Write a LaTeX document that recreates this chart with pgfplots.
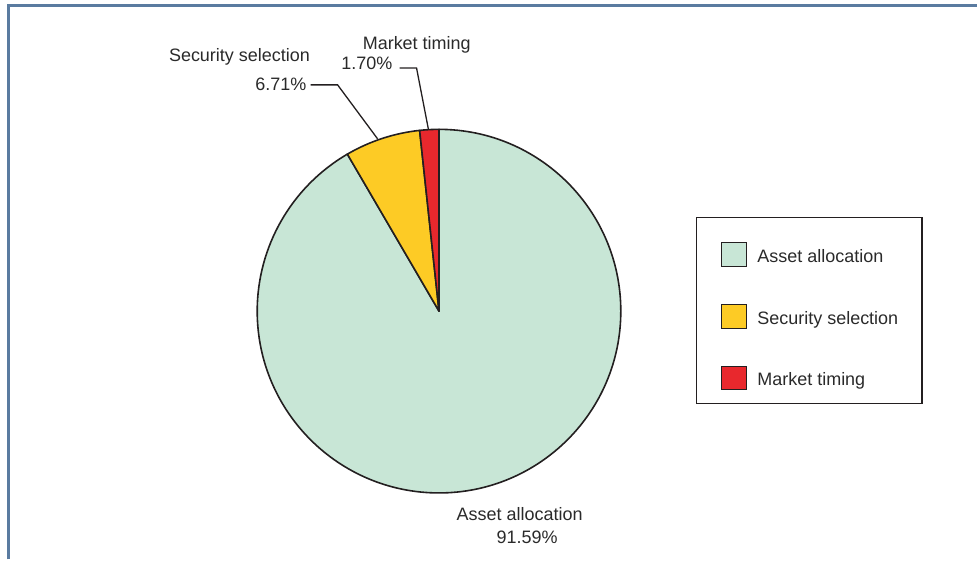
\documentclass[border=0pt]{standalone}
\usepackage{fontspec}
\setmainfont{Liberation Sans}
\usepackage{pgfplots}
\usepackage{pgfplotstable}
\pgfplotsset{compat=1.18}
\definecolor{slice0}{HTML}{C8E6D6}
\definecolor{slice1}{HTML}{FDCB25}
\definecolor{slice2}{HTML}{E8282D}
\definecolor{edgecol}{HTML}{231F20}
\definecolor{framecol}{HTML}{5A7BA0}
\definecolor{txt}{HTML}{2A2A2A}
\pgfplotstableread{
label value
Asset 91.59
Security 6.71
Market 1.70
}\piedata
\begin{document}
\begin{tikzpicture}
\begin{axis}[width=978pt,height=560pt,scale only axis,
  xmin=0,xmax=978,ymin=0,ymax=560,hide axis,clip=false]
\path (rel axis cs:0,0) rectangle (rel axis cs:1,1);
% frame
\draw[framecol, line width=2.2pt] (axis cs:8.5,0) -- (axis cs:8.5,554.5) -- (axis cs:978,554.5);
% pie slices from the table
\xdef\angstart{90}
\foreach \i in {0,1,2}{
  \pgfplotstablegetelem{\i}{value}\of\piedata
  \pgfmathsetmacro\angstop{\angstart-3.6*\pgfplotsretval}
  \edef\temp{\noexpand\filldraw[fill=slice\i, draw=edgecol, line width=1.6pt, line join=round]
    (axis cs:439.5,248.5) -- ++(\angstart:182pt) arc[start angle=\angstart, end angle=\angstop, radius=182pt] -- cycle;}
  \temp
  \xdef\angstart{\angstop}
}
% leader lines
\draw[edgecol, line width=1.3pt] (axis cs:311,475) -- (axis cs:338,475) -- (axis cs:378,421);
\draw[edgecol, line width=1.3pt] (axis cs:400,492) -- (axis cs:417,492) -- (axis cs:429,430);
% labels
\begin{scope}[every node/.style={inner sep=0pt, text=txt, font=\fontsize{18}{21}\selectfont}]
\node[anchor=base west] at (axis cs:169,498) {Security selection};
\node[anchor=base east] at (axis cs:307,469) {6.71\%};
\node[anchor=base west] at (axis cs:363,510) {Market timing};
\node[anchor=base east] at (axis cs:393,490) {1.70\%};
\node[anchor=base west] at (axis cs:457,39) {Asset allocation};
\node[anchor=base west] at (axis cs:497,16) {91.59\%};
% legend
\draw[edgecol, line width=1.2pt] (axis cs:697,156) rectangle (axis cs:923,342);
\filldraw[fill=slice0, draw=edgecol, line width=1pt] (axis cs:722,293) rectangle (axis cs:747,317);
\filldraw[fill=slice1, draw=edgecol, line width=1pt] (axis cs:722,231) rectangle (axis cs:747,255);
\filldraw[fill=slice2, draw=edgecol, line width=1pt] (axis cs:722,170) rectangle (axis cs:747,193);
\node[anchor=base west] at (axis cs:758,297) {Asset allocation};
\node[anchor=base west] at (axis cs:758,235) {Security selection};
\node[anchor=base west] at (axis cs:758,174) {Market timing};
\end{scope}
\end{axis}
\end{tikzpicture}
\end{document}
